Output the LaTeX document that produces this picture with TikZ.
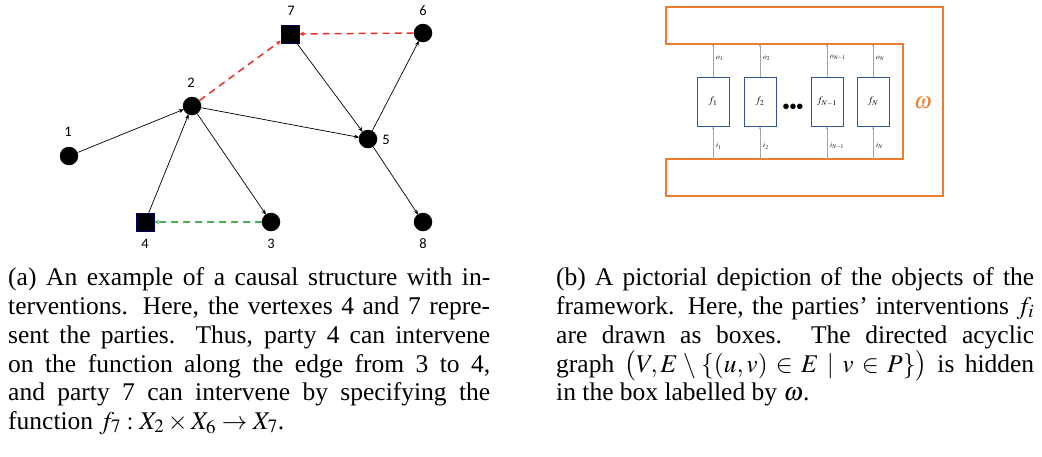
\documentclass[tikz,border=0pt]{standalone}
\usepackage{mathptmx}
\usepackage[no-math]{fontspec}
\setmainfont{Liberation Serif}
\newfontfamily\labfont{Carlito}
\usetikzlibrary{arrows.meta}
\definecolor{offorange}{RGB}{237,125,49}
\definecolor{offblue}{RGB}{47,85,151}
\definecolor{dashred}{RGB}{235,50,40}
\definecolor{dashgreen}{RGB}{75,175,75}
\definecolor{arrgray}{RGB}{165,165,165}
\begin{document}
\begin{tikzpicture}[x=1pt,y=-1pt,
  dot/.style={circle,fill=black,minimum size=18.5pt,inner sep=0pt},
  party/.style={rectangle,fill=black,draw=black!60!blue,line width=0.5pt,minimum size=18pt,inner sep=0pt},
  lab/.style={font=\labfont\fontsize{14.5}{14.5}\selectfont,inner sep=0pt},
  edge/.style={-{Stealth[length=5pt,width=4pt]},line width=0.7pt,shorten >=-0.5pt},
  reddash/.style={-{Stealth[length=5pt,width=4.5pt]},draw=dashred,line width=1.5pt,dash pattern=on 7pt off 5pt},
  greendash/.style={-{Stealth[length=5pt,width=4.5pt]},draw=dashgreen,line width=1.5pt,dash pattern=on 7pt off 5pt},
  fbox/.style={rectangle,draw=offblue,line width=0.9pt,fill=white,minimum width=32pt,minimum height=49pt,inner sep=0pt,font=\fontsize{10}{10}\selectfont},
  garrow/.style={-{Stealth[length=3pt,width=2.5pt]},draw=arrgray,line width=0.6pt},
  slab/.style={anchor=west,inner sep=0pt,font=\fontsize{7.5}{7.5}\selectfont},
  captext/.style={anchor=base west,inner sep=0pt,font=\fontsize{25.5}{28.8}\selectfont}
]
\useasboundingbox (0,0) rectangle (1042,456);
% ---------- panel (a) ----------
\node[dot] (n1) at (69,156) {};
\node[dot] (n2) at (192,106) {};
\node[party] (n7) at (290,34) {};
\node[dot] (n6) at (423,33) {};
\node[dot] (n5) at (368,139) {};
\node[party] (n4) at (145,222) {};
\node[dot] (n3) at (271,222) {};
\node[dot] (n8) at (423,222) {};
\node[lab] (l1) at (68,132) {1};
\node[lab] (l2) at (191,83) {2};
\node[lab] (l7) at (291,11) {7};
\node[lab] (l6) at (423,11) {6};
\node[lab] (l5) at (386,140) {5};
\node[lab] (l4) at (145,244) {4};
\node[lab] (l3) at (271,244) {3};
\node[lab] (l8) at (423,244) {8};
\draw[edge] (n1) -- (n2);
\draw[edge] (n4) -- (n2);
\draw[edge] (n2) -- (n3);
\draw[edge] (n2) -- (n5);
\draw[edge] (n7) -- (n5);
\draw[edge] (n5) -- (n6);
\draw[edge] (n5) -- (n8);
\draw[reddash] (n2) -- (n7);
\draw[reddash] (n6) -- (n7);
\draw[greendash] (n3) -- (n4);
% ---------- panel (b) ----------
\draw[offorange,line width=1.3pt] (666,7) -- (943,7) -- (943,196) -- (666,196) -- (666,159) -- (903,159) -- (903,44) -- (666,44) -- cycle;
\node[fbox] (f1) at (713,101.5) {$f_1$};
\node[fbox] (f2) at (760,101.5) {$f_2$};
\node[fbox] (f3) at (827,101.5) {$f_{N-1}$};
\node[fbox] (f4) at (873,101.5) {$f_N$};
\node[inner sep=0pt,font=\labfont\bfseries\fontsize{13}{13}\selectfont] (dots) at (793,107) {\textbullet\kern0.5pt\textbullet\kern0.5pt\textbullet};
\foreach \k/\x in {1/713,2/760,3/827,4/873}{
  \coordinate (t\k) at (\x,44);
  \coordinate (b\k) at (\x,159);
  \draw[garrow] (f\k.north) -- (t\k);
  \draw[garrow] (b\k) -- (f\k.south);
}
\node[slab] (o1) at (716,58) {$o_1$};
\node[slab] (o2) at (763,58) {$o_2$};
\node[slab] (o3) at (830,58) {$o_{N-1}$};
\node[slab] (o4) at (876,58) {$o_N$};
\node[slab] (i1) at (716,146) {$i_1$};
\node[slab] (i2) at (763,146) {$i_2$};
\node[slab] (i3) at (830,146) {$i_{N-1}$};
\node[slab] (i4) at (876,146) {$i_N$};
\node[inner sep=0pt,text=offorange,font=\fontsize{23}{23}\selectfont] (om) at (923,103) {$\omega$};
% ---------- captions ----------
\node[captext] (a1) at (8,285) {\makebox[482pt][s]{(a) An example of a causal structure with in-}};
\node[captext] (a2) at (8,314) {\makebox[482pt][s]{terventions. Here, the vertexes 4 and 7 repre-}};
\node[captext] (a3) at (8,343) {\makebox[482pt][s]{sent the parties.\ \ Thus, party 4 can intervene}};
\node[captext] (a4) at (8,372) {\makebox[482pt][s]{on the function along the edge from 3 to 4,}};
\node[captext] (a5) at (8,400) {\makebox[482pt][s]{and party 7 can intervene by specifying the}};
\node[captext] (a6) at (8,429) {function $f_7 : X_2 \times X_6 \to X_7$.};
\node[captext] (b1t) at (556,285) {\makebox[478pt][s]{(b) A pictorial depiction of the objects of the}};
\node[captext] (b2t) at (556,314) {\makebox[478pt][s]{framework. Here, the parties' interventions $f_i$}};
\node[captext] (b3t) at (556,343) {\makebox[478pt][s]{are drawn as boxes.\ \ The directed acyclic}};
\node[captext] (b4t) at (556,372) {\makebox[478pt][s]{graph $\bigl(V,E\setminus\{(u,v)\in E\mid v\in P\}\bigr)$ is hidden}};
\node[captext] (b5t) at (556,400) {in the box labelled by $\omega$.};
\end{tikzpicture}
\end{document}
